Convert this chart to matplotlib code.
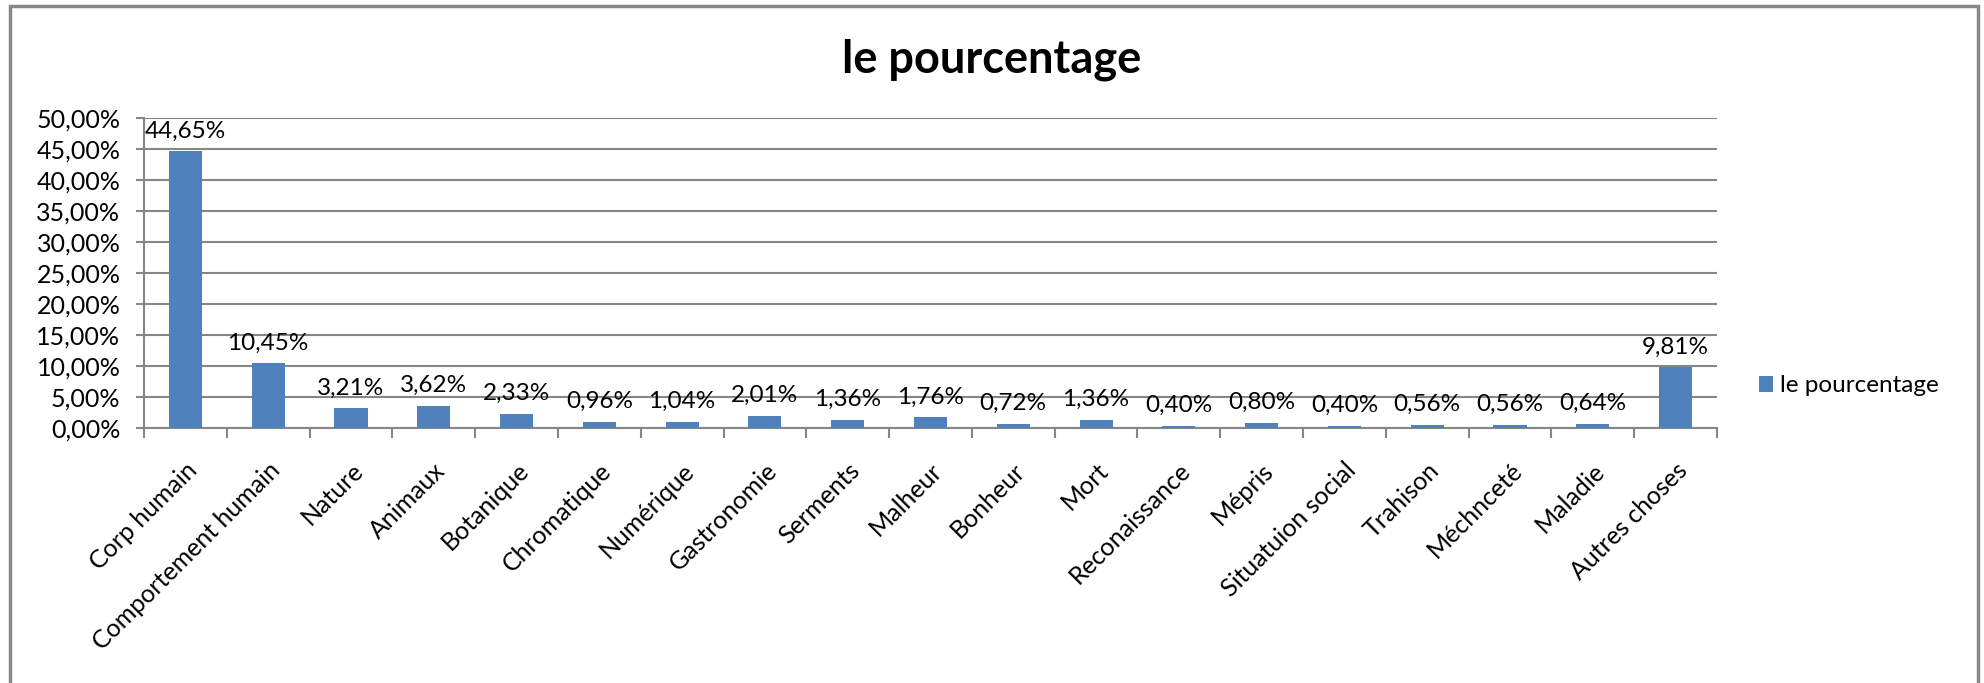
import matplotlib

matplotlib.use("Agg")
import matplotlib.pyplot as plt
from matplotlib.patches import Rectangle

plt.rcParams["font.family"] = ["Lato", "DejaVu Sans"]

categories = [
    "Corp humain", "Comportement humain", "Nature", "Animaux", "Botanique",
    "Chromatique", "Numérique", "Gastronomie", "Serments", "Malheur",
    "Bonheur", "Mort", "Reconaissance", "Mépris", "Situatuion social",
    "Trahison", "Méchnceté", "Maladie", "Autres choses",
]
values = [
    44.65, 10.45, 3.21, 3.62, 2.33, 0.96, 1.04, 2.01, 1.36, 1.76,
    0.72, 1.36, 0.40, 0.80, 0.40, 0.56, 0.56, 0.64, 9.81,
]
y_ticks = [0, 5, 10, 15, 20, 25, 30, 35, 40, 45, 50]

BAR_COLOR = "#4F81BD"
GRID_COLOR = "#868686"
FS = 18


def fmt(v: float) -> str:
    return f"{v:.2f}".replace(".", ",") + "%"


def main() -> None:
    fig = plt.figure(figsize=(19.84, 6.83), dpi=100)
    ax = fig.add_axes([144 / 1984, 1 - 428 / 683, (1717 - 144) / 1984, (428 - 118) / 683])

    x = list(range(len(categories)))
    bars = ax.bar(x, values, width=0.4, color=BAR_COLOR, zorder=3, label="le pourcentage")

    for rect, v in zip(bars, values):
        ax.annotate(
            fmt(v),
            (rect.get_x() + rect.get_width() / 2, rect.get_height()),
            xytext=(0, 7),
            textcoords="offset points",
            ha="center",
            va="bottom",
            fontsize=FS - 0.5,
            zorder=4,
        )

    ax.set_xlim(-0.5, len(categories) - 0.5)
    ax.set_ylim(0, 50)
    ax.set_yticks(y_ticks)
    ax.set_yticklabels([fmt(t) for t in y_ticks], fontsize=FS)
    ax.yaxis.grid(True, color=GRID_COLOR, linewidth=1.5, zorder=0)

    # category ticks sit on the boundaries between bars
    ax.set_xticks([i - 0.5 for i in range(len(categories) + 1)], minor=False)
    ax.set_xticklabels([])
    ax.set_xticks(x, minor=True)
    ax.set_xticklabels(categories, minor=True, rotation=45, ha="right",
                       rotation_mode="anchor", fontsize=FS)
    ax.tick_params(axis="x", which="minor", length=0, pad=22)
    ax.tick_params(axis="x", which="major", length=7, width=1.5, color=GRID_COLOR, direction="out")
    ax.tick_params(axis="y", length=6, width=1.5, color=GRID_COLOR, pad=11)

    for side in ["top", "right"]:
        ax.spines[side].set_visible(False)
    for side in ["left", "bottom"]:
        ax.spines[side].set_color(GRID_COLOR)
        ax.spines[side].set_linewidth(1.5)

    fig.text(0.5, 1 - 60 / 683, "le pourcentage", ha="center", va="center",
             fontsize=32.5, fontweight="bold")

    fig.legend(
        handles=[bars],
        loc="center left",
        bbox_to_anchor=(1737 / 1984, 1 - 386 / 683),
        frameon=False,
        fontsize=FS - 0.5,
        handlelength=0.6,
        handleheight=0.6,
        handletextpad=0.25,
    )

    fig.patches.append(
        Rectangle((10 / 1984, -0.05), (1978 - 10) / 1984, 1.05 - 6 / 683,
                  transform=fig.transFigure, fill=False,
                  edgecolor="#888888", linewidth=2.5)
    )

    fig.savefig("out.png", dpi=100)
    plt.close(fig)


if __name__ == "__main__":
    main()
